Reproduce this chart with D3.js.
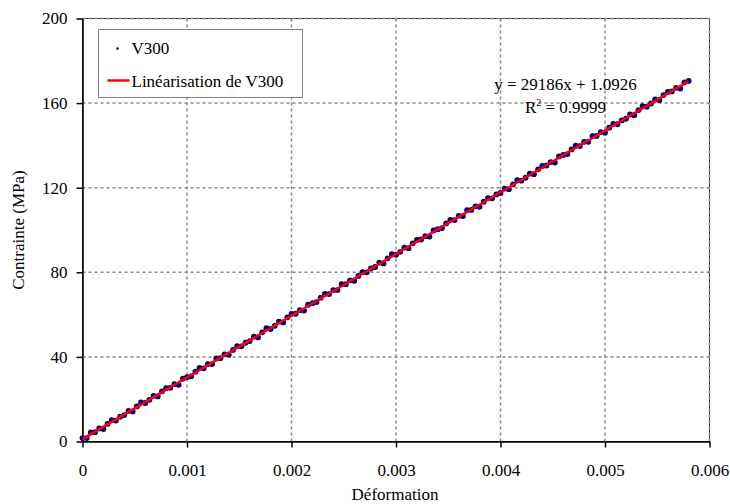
<!DOCTYPE html>
<html>
<head>
<meta charset="utf-8">
<script src="https://cdn.jsdelivr.net/npm/d3@7"></script>
<style>
    body { margin: 0; background: #fff; }
    svg text { font-family: "Times New Roman", "Liberation Serif", Times, "DejaVu Serif", serif !important; fill: #000; }
</style>
</head>
<body>
<div id="chart"></div>
<script>
// Measured points (déformation, contrainte en MPa)
const strain = [
    0, 0.00004, 0.00008, 0.00012, 0.00016, 0.0002, 0.00024, 0.00028, 0.00032, 0.00036,
    0.0004, 0.00044, 0.00048, 0.00052, 0.00056, 0.0006, 0.00064, 0.00068, 0.00072, 0.00076,
    0.0008, 0.00084, 0.00088, 0.00092, 0.00096, 0.001, 0.00104, 0.00108, 0.00112, 0.00116,
    0.0012, 0.00124, 0.00128, 0.00132, 0.00136, 0.0014, 0.00144, 0.00148, 0.00152, 0.00156,
    0.0016, 0.00164, 0.00168, 0.00172, 0.00176, 0.0018, 0.00184, 0.00188, 0.00192, 0.00196,
    0.002, 0.00204, 0.00208, 0.00212, 0.00216, 0.0022, 0.00224, 0.00228, 0.00232, 0.00236,
    0.0024, 0.00244, 0.00248, 0.00252, 0.00256, 0.0026, 0.00264, 0.00268, 0.00272, 0.00276,
    0.0028, 0.00284, 0.00288, 0.00292, 0.00296, 0.003, 0.00304, 0.00308, 0.00312, 0.00316,
    0.0032, 0.00324, 0.00328, 0.00332, 0.00336, 0.0034, 0.00344, 0.00348, 0.00352, 0.00356,
    0.0036, 0.00364, 0.00368, 0.00372, 0.00376, 0.0038, 0.00384, 0.00388, 0.00392, 0.00396,
    0.004, 0.00404, 0.00408, 0.00412, 0.00416, 0.0042, 0.00424, 0.00428, 0.00432, 0.00436,
    0.0044, 0.00444, 0.00448, 0.00452, 0.00456, 0.0046, 0.00464, 0.00468, 0.00472, 0.00476,
    0.0048, 0.00484, 0.00488, 0.00492, 0.00496, 0.005, 0.00504, 0.00508, 0.00512, 0.00516,
    0.0052, 0.00524, 0.00528, 0.00532, 0.00536, 0.0054, 0.00544, 0.00548, 0.00552, 0.00556,
    0.0056, 0.00564, 0.00568, 0.00572, 0.00576, 0.0058
];
const stress = [
    1.6, 1.6, 4.3, 4.4, 6.2, 5.9, 8.3, 10.1, 9.9, 11.7,
    12.5, 14.5, 14.2, 16.6, 18.5, 18.2, 19.7, 21.6, 21.3, 23.7,
    25.2, 25.4, 27.1, 26.8, 29.7, 30.4, 30.8, 33.0, 34.8, 34.6,
    36.6, 36.6, 39.3, 39.4, 41.2, 41.0, 43.3, 45.1, 45.0, 46.7,
    47.5, 49.6, 49.2, 51.6, 53.6, 53.2, 54.7, 56.7, 56.3, 58.7,
    60.3, 60.4, 62.1, 61.9, 64.7, 65.4, 65.9, 68.0, 69.8, 69.7,
    71.6, 71.6, 74.4, 74.4, 76.2, 76.0, 78.3, 80.1, 80.0, 81.8,
    82.5, 84.6, 84.2, 86.6, 88.6, 88.3, 89.7, 91.7, 91.4, 93.7,
    95.3, 95.5, 97.1, 96.9, 99.8, 100.4, 100.9, 103.1, 104.8, 104.7,
    106.7, 106.6, 109.4, 109.5, 111.2, 111.0, 113.4, 115.1, 115.0, 116.8,
    117.5, 119.6, 119.3, 121.6, 123.6, 123.3, 124.7, 126.7, 126.4, 128.7,
    130.3, 130.5, 132.1, 131.9, 134.8, 135.5, 135.9, 138.1, 139.9, 139.7,
    141.7, 141.7, 144.4, 144.5, 146.3, 146.0, 148.4, 150.2, 150.0, 151.8,
    152.6, 154.6, 154.3, 156.7, 158.6, 158.3, 159.8, 161.7, 161.4, 163.8,
    165.3, 165.5, 167.2, 166.9, 169.8, 170.5
];

// Linear fit end points (y = 29186x + 1.0926)
const fitStrain = [0, 0.0058];
const fitStress = [1.0926, 170.37];

const xTicks = [0, 0.001, 0.002, 0.003, 0.004, 0.005, 0.006];
const yTicks = [0, 40, 80, 120, 160, 200];

const W = 730, H = 504;
const margin = {top: 18.5, right: 20.5, bottom: 62.5, left: 82.5};
const width = W - margin.left - margin.right;
const height = H - margin.top - margin.bottom;
const serif = '"Times New Roman", "Liberation Serif", "DejaVu Serif", serif';

const svg = d3.select('#chart')
    .append('svg')
    .attr('width', W)
    .attr('height', H)
    .attr('font-family', serif);

const g = svg.append('g')
    .attr('transform', `translate(${margin.left}, ${margin.top})`);

const x = d3.scaleLinear().domain([0, 0.006]).range([0, width]);
const y = d3.scaleLinear().domain([0, 200]).range([height, 0]);

// plot frame
g.append('rect')
    .attr('width', width)
    .attr('height', height)
    .attr('fill', 'none')
    .attr('stroke', '#333')
    .attr('stroke-width', 1);

// dashed grid
g.append('g')
    .selectAll('line')
    .data(xTicks.slice(1))
    .join('line')
    .attr('x1', d => x(d)).attr('x2', d => x(d))
    .attr('y1', 0).attr('y2', height)
    .attr('stroke', '#888')
    .attr('stroke-width', 1.5)
    .attr('stroke-dasharray', '3,3');

g.append('g')
    .selectAll('line')
    .data(yTicks.slice(1))
    .join('line')
    .attr('x1', 0).attr('x2', width)
    .attr('y1', d => y(d)).attr('y2', d => y(d))
    .attr('stroke', '#888')
    .attr('stroke-width', 1.5)
    .attr('stroke-dasharray', '3,3');

// axes
const fmtX = d => d === 0 ? '0' : d3.format('.3f')(d);
const xAxis = g.append('g')
    .attr('transform', `translate(0, ${height})`)
    .call(d3.axisBottom(x).tickValues(xTicks).tickFormat(fmtX).tickSize(6).tickSizeOuter(0).tickPadding(16));
const yAxis = g.append('g')
    .call(d3.axisLeft(y).tickValues(yTicks).tickFormat(d3.format('d')).tickSize(6).tickSizeOuter(0).tickPadding(9));

[xAxis, yAxis].forEach(a => {
    a.attr('font-family', serif).attr('font-size', 17);
    a.select('.domain').attr('stroke', '#000').attr('stroke-width', 1.5);
    a.selectAll('.tick line').attr('stroke', '#000').attr('stroke-width', 1.5);
    a.selectAll('.tick text').attr('fill', '#000');
});

// data points
const points = strain.map((s, i) => ({s: s, c: stress[i]}));
g.append('g')
    .selectAll('circle')
    .data(points)
    .join('circle')
    .attr('cx', d => x(d.s))
    .attr('cy', d => y(d.c))
    .attr('r', 2.9)
    .attr('fill', '#000080');

// fit line
const line = d3.line()
    .x(d => x(d[0]))
    .y(d => y(d[1]));
g.append('path')
    .datum(fitStrain.map((s, i) => [s, fitStress[i]]))
    .attr('d', line)
    .attr('fill', 'none')
    .attr('stroke', '#ff0000')
    .attr('stroke-width', 2.5);

// equation
g.append('text')
    .attr('x', 565.5 - margin.left)
    .attr('y', 90 - margin.top)
    .attr('text-anchor', 'middle')
    .attr('font-size', 17)
    .text('y = 29186x + 1.0926');
const r2 = g.append('text')
    .attr('x', 565.5 - margin.left)
    .attr('y', 113 - margin.top)
    .attr('text-anchor', 'middle')
    .attr('font-size', 17);
r2.append('tspan').text('R');
r2.append('tspan').attr('dy', -7).attr('font-size', 10).text('2');
r2.append('tspan').attr('dy', 7).text(' = 0.9999');

// legend
const lg = svg.append('g').attr('transform', 'translate(98.5, 29.5)');
lg.append('rect')
    .attr('width', 204)
    .attr('height', 68)
    .attr('fill', '#fff')
    .attr('stroke', '#808080')
    .attr('stroke-width', 1);
lg.append('circle')
    .attr('cx', 19).attr('cy', 19)
    .attr('r', 1.3)
    .attr('fill', '#000080');
lg.append('text')
    .attr('x', 33).attr('y', 24)
    .attr('font-size', 17)
    .text('V300');
lg.append('line')
    .attr('x1', 9).attr('x2', 31)
    .attr('y1', 51).attr('y2', 51)
    .attr('stroke', '#ff0000')
    .attr('stroke-width', 2.5);
lg.append('text')
    .attr('x', 33).attr('y', 57)
    .attr('font-size', 17)
    .text('Linéarisation de V300');

// axis titles
svg.append('text')
    .attr('transform', 'translate(24, 230) rotate(-90)')
    .attr('text-anchor', 'middle')
    .attr('font-size', 17)
    .text('Contrainte (MPa)');
svg.append('text')
    .attr('x', 395)
    .attr('y', 500)
    .attr('text-anchor', 'middle')
    .attr('font-size', 17)
    .text('Déformation');
</script>
</body>
</html>
